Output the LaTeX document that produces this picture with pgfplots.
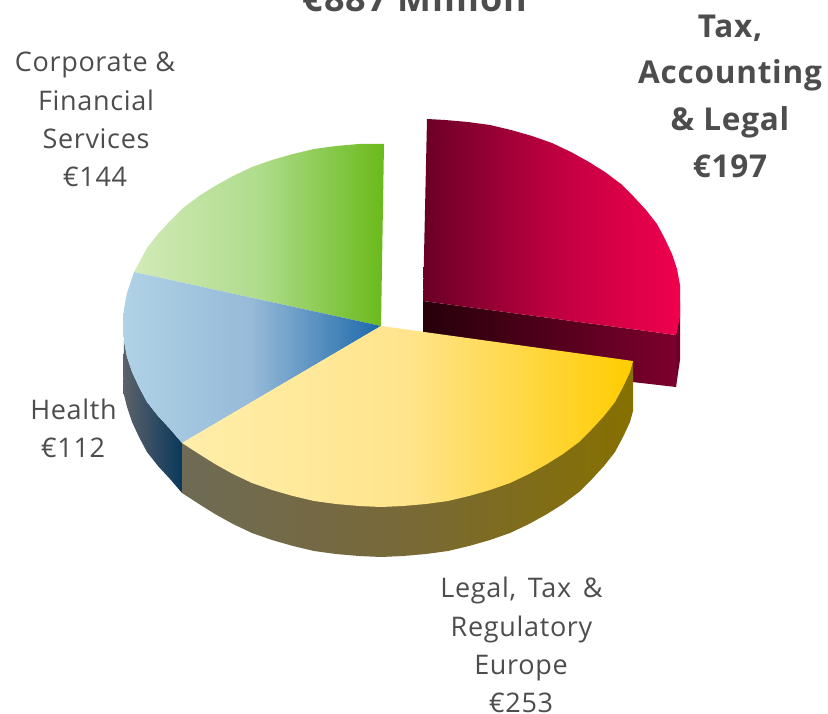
\documentclass[border=0pt]{standalone}
\usepackage{fontspec}
\setmainfont{Open Sans}[LetterSpace=2.5]
\usepackage{pgfplots}
\pgfplotsset{compat=1.18}
\definecolor{txt}{RGB}{77,77,77}
\tikzset{
  lab/.style={text=txt, inner sep=0pt, anchor=base, font=\fontsize{27}{27}\selectfont},
  blab/.style={text=txt, inner sep=0pt, anchor=base, font=\fontsize{31.5}{31.5}\selectfont\bfseries},
}
\begin{document}
\begin{tikzpicture}
\path[clip, use as bounding box] (0,0) rectangle (828pt,714pt);
\begin{axis}[
  at={(0,0)}, anchor=south west,
  scale only axis, width=828pt, height=714pt,
  xmin=0, xmax=828, ymin=0, ymax=714,
  y dir=reverse,
  hide axis, clip=false,
]
% red slice, pulled out: inner wall, outer sliver, top
\addplot[draw=none, left color={rgb,255:red,38;green,0;blue,10}, right color={rgb,255:red,125;green,0;blue,45}]
  coordinates {(423,301)(676,335)(676,387)(423,358)(423,301)};
\addplot[draw=none, fill={rgb,255:red,110;green,0;blue,40}]
  coordinates {(680,301)(680,360)(676,387)(676,335)(680,301)};
\addplot[draw=none, left color={rgb,255:red,105;green,0;blue,38}, right color={rgb,255:red,240;green,0;blue,78}, middle color={rgb,255:red,190;green,0;blue,64}]
  coordinates {(423,301)(427,119)(445,120)(468,122)(490,125)(511,130)(532,136)(552,143)(571,152)(589,162)(605,172)(621,184)(634,197)(646,210)(657,224)(665,239)(672,254)(677,269)(680,285)(680,301)(680,317)(676,335)(423,301)};
% green top
\addplot[draw=none, left color={rgb,255:red,210;green,234;blue,184}, right color={rgb,255:red,106;green,186;blue,26}, middle color={rgb,255:red,175;green,220;blue,140}]
  coordinates {(381,326)(384,144)(359,144)(336,146)(314,149)(293,154)(272,160)(252,167)(233,176)(215,186)(199,196)(183,208)(170,221)(158,234)(147,248)(139,263)(134,272)(381,326)};
% blue wall and top
\addplot[draw=none, left color={rgb,255:red,92;green,98;blue,106}, right color={rgb,255:red,10;green,56;blue,92}]
  coordinates {(124,341)(127,357)(132,372)(139,387)(147,402)(158,416)(170,429)(182,443)(182,493)(170,479)(158,466)(147,452)(139,437)(132,422)(127,407)(123,391)(124,341)};
\addplot[draw=none, left color={rgb,255:red,176;green,210;blue,230}, right color={rgb,255:red,28;green,104;blue,170}, middle color={rgb,255:red,150;green,186;blue,216}]
  coordinates {(381,326)(134,272)(127,293)(124,309)(123,325)(124,341)(127,357)(132,372)(139,387)(147,402)(158,416)(170,429)(182,443)(381,326)};
% yellow wall and top
\addplot[draw=none, left color={rgb,255:red,110;green,106;blue,85}, right color={rgb,255:red,134;green,112;blue,0}, middle color={rgb,255:red,120;green,105;blue,55}]
  coordinates {(633,361)(633,411)(630,422)(623,437)(615,452)(604,466)(592,479)(579,492)(563,504)(547,514)(529,524)(510,533)(490,540)(469,546)(448,551)(426,554)(403,556)(381,557)(359,556)(336,554)(314,551)(293,546)(272,540)(252,533)(233,524)(215,514)(199,504)(182,493)(182,443)(633,361)};
\addplot[draw=none, left color={rgb,255:red,255;green,238;blue,170}, right color={rgb,255:red,255;green,204;blue,0}, middle color={rgb,255:red,255;green,228;blue,140}]
  coordinates {(381,326)(633,361)(630,372)(623,387)(615,402)(604,416)(592,429)(579,442)(563,454)(547,464)(529,474)(510,483)(490,490)(469,496)(448,501)(426,504)(403,506)(381,507)(359,506)(336,504)(314,501)(293,496)(272,490)(252,483)(233,474)(215,464)(199,454)(182,443)(381,326)};
% labels
\node[blab, font=\fontsize{36}{36}\selectfont\bfseries] at (axis cs:415,12) {€887 Million};
\node[lab] at (axis cs:95,72) {Corporate \&};
\node[lab] at (axis cs:96,110.5) {Financial};
\node[lab] at (axis cs:96,149) {Services};
\node[lab] at (axis cs:95,187) {€144};
\node[lab] at (axis cs:73.5,419) {Health};
\node[lab] at (axis cs:73,457) {€112};
\node[lab] at (axis cs:521.5,597) {Legal,\hspace{4pt} Tax\hspace{4pt} \&};
\node[lab] at (axis cs:521.5,636) {Regulatory};
\node[lab] at (axis cs:521,674) {Europe};
\node[lab] at (axis cs:521,712) {€253};
\node[blab] at (axis cs:730,38) {Tax,};
\node[blab] at (axis cs:730,84) {Accounting};
\node[blab] at (axis cs:730,131) {\& Legal};
\node[blab] at (axis cs:730,178) {€197};
\end{axis}
\end{tikzpicture}
\end{document}
